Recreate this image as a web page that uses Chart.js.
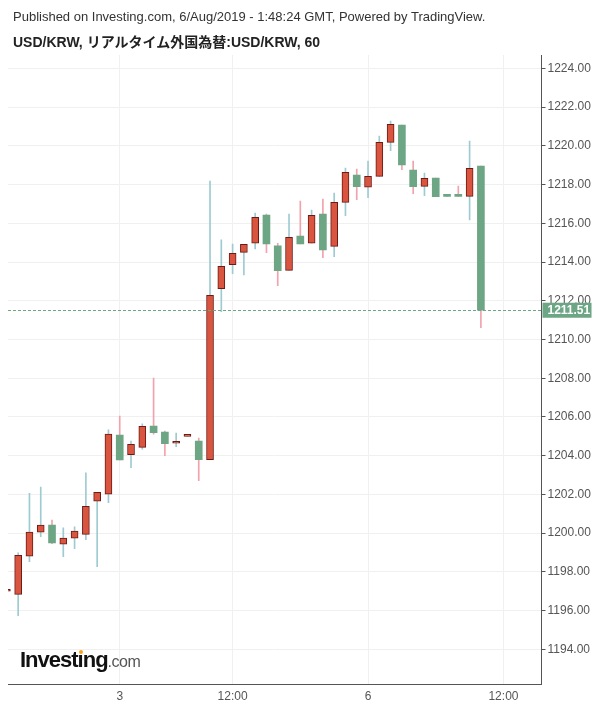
<!DOCTYPE html>
<html>
<head>
<meta charset="utf-8">
<script src="https://cdn.jsdelivr.net/npm/chart.js@4.4.0/dist/chart.umd.min.js"></script>
<style>
  body { margin: 0; background: #fff; font-family: "Liberation Sans", Arial, sans-serif; }
  #wrap { position: relative; width: 600px; height: 708px; }
  #wrap canvas { position: absolute; left: 0; top: 0; }
  .hdr { position: absolute; left: 13px; white-space: nowrap; z-index: 2; }
  #pub { top: 9px; font-size: 13px; color: #333; }
  #ttl { top: 31px; font-size: 14px; font-weight: bold; color: #222; font-family: "Liberation Sans", "Noto Sans CJK JP", sans-serif; }
  #logo { position: absolute; left: 20px; top: 647px; z-index: 2; white-space: nowrap; }
  #logo .big { font-size: 22px; font-weight: bold; color: #111; letter-spacing: -1px; }
  #logo .com { font-size: 16px; color: #555; letter-spacing: -0.5px; }
  .idot { position: relative; }
  .idot::after { content: ""; position: absolute; left: 1px; top: 3px; width: 4px; height: 4px; background: #f7a21b; border-radius: 50%; }
</style>
</head>
<body>
<div id="wrap">
  <div class="hdr" id="pub">Published on Investing.com, 6/Aug/2019 - 1:48:24 GMT, Powered by TradingView.</div>
  <div class="hdr" id="ttl">USD/KRW, リアルタイム外国為替:USD/KRW, 60</div>
  <div id="logo"><span class="big">Invest<span class="idot">ı</span>ng</span><span class="com">.com</span></div>
  <canvas id="chart" width="600" height="708"></canvas>
</div>
<script>
// hourly candles, index 0 is the bar cut off at the left edge
const opens = [1197.00, 1196.84, 1198.81, 1200.05, 1200.42, 1199.43, 1199.74, 1199.94, 1201.65, 1202.01,
  1205.07, 1204.05, 1204.43, 1205.53, 1205.22, 1204.64, 1205.00, 1204.76, 1203.79, 1212.62,
  1213.86, 1214.50, 1214.97, 1216.43, 1214.83, 1213.57, 1215.34, 1214.97, 1216.48, 1214.81,
  1217.08, 1218.49, 1217.86, 1218.42, 1220.18, 1221.07, 1218.75, 1217.91, 1218.34, 1217.40,
  1217.40, 1217.39, 1218.96];
const highs = [1197.00, 1198.98, 1202.06, 1202.38, 1200.68, 1200.27, 1200.32, 1203.11, 1202.11, 1205.33,
  1206.05, 1204.76, 1205.64, 1208.01, 1205.27, 1205.17, 1205.00, 1204.91, 1218.18, 1215.14,
  1214.93, 1214.91, 1216.53, 1216.48, 1214.97, 1216.48, 1217.15, 1216.68, 1217.25, 1217.56,
  1218.85, 1218.80, 1219.21, 1220.50, 1221.28, 1221.07, 1219.21, 1218.59, 1218.34, 1217.40,
  1217.92, 1220.25, 1218.96];
const lows = [1197.00, 1195.74, 1198.53, 1199.82, 1199.45, 1198.79, 1199.20, 1199.66, 1198.27, 1201.57,
  1203.78, 1203.38, 1204.33, 1205.11, 1204.00, 1204.46, 1205.00, 1202.71, 1203.79, 1211.43,
  1213.40, 1213.33, 1214.67, 1214.48, 1212.78, 1213.57, 1214.94, 1214.97, 1214.22, 1214.27,
  1216.39, 1217.22, 1217.32, 1218.42, 1219.75, 1218.77, 1217.53, 1217.42, 1217.37, 1217.39,
  1217.39, 1216.18, 1210.61];
const closes = [1197.00, 1198.86, 1200.05, 1200.41, 1199.49, 1199.74, 1200.10, 1201.39, 1202.11, 1205.12,
  1203.78, 1204.59, 1205.52, 1205.19, 1204.62, 1204.64, 1205.00, 1203.79, 1212.28, 1213.78,
  1214.45, 1214.91, 1216.31, 1214.94, 1213.55, 1215.28, 1214.94, 1216.41, 1214.63, 1217.08,
  1218.63, 1217.89, 1218.42, 1220.18, 1221.11, 1219.02, 1217.89, 1218.32, 1217.37, 1217.39,
  1217.39, 1218.84, 1211.51];

const xTickPos = [10, 20, 32, 44];
const xTickLabels = ["3", "12:00", "6", "12:00"];
const yTicks = [1194, 1196, 1198, 1200, 1202, 1204, 1206, 1208, 1210, 1212, 1214, 1216, 1218, 1220, 1222, 1224];

const upFill = "#d9553f", upBorder = "#6b1a14", upWick = "#9ecbd1";
const downFill = "#6ca684", downWick = "#f2a2ad";

const isUp = closes.map((c, i) => c >= opens[i]);
const lastPrice = closes[closes.length - 1];

const bodies = opens.map((o, i) => ({ x: i, y: [o, closes[i]] }));
const wicks = lows.map((l, i) => ({ x: i, y: [l, highs[i]] }));

const lastPricePlugin = {
  id: "lastPrice",
  afterDatasetsDraw(chart) {
    const { ctx, chartArea, scales } = chart;
    const y = Math.round(scales.y.getPixelForValue(lastPrice)) + 0.5;
    ctx.save();
    ctx.strokeStyle = downFill;
    ctx.lineWidth = 1;
    ctx.setLineDash([3, 2]);
    ctx.beginPath();
    ctx.moveTo(chartArea.left, y);
    ctx.lineTo(chartArea.right, y);
    ctx.stroke();
    ctx.restore();
  },
  afterDraw(chart) {
    const { ctx, chartArea, scales } = chart;
    const y = scales.y.getPixelForValue(lastPrice);
    ctx.save();
    ctx.fillStyle = downFill;
    ctx.fillRect(chartArea.right + 1, y - 7.5, 49, 15);
    ctx.fillStyle = "#fff";
    ctx.font = "bold 12px 'Liberation Sans', Arial, sans-serif";
    ctx.textBaseline = "middle";
    ctx.fillText(lastPrice.toFixed(2), chartArea.right + 6, y + 0.5);
    ctx.restore();
  }
};

new Chart(document.getElementById("chart").getContext("2d"), {
  type: "bar",
  data: {
    datasets: [
      {
        label: "body",
        data: bodies,
        order: 0,
        grouped: false,
        barThickness: 7,
        minBarLength: 2,
        backgroundColor: isUp.map(u => u ? upFill : downFill),
        borderColor: isUp.map(u => u ? upBorder : downFill),
        borderWidth: isUp.map(u => u ? 1 : 0),
        borderSkipped: false
      },
      {
        label: "wick",
        data: wicks,
        order: 1,
        grouped: false,
        barThickness: 1,
        backgroundColor: isUp.map(u => u ? upWick : downWick),
        borderWidth: 0
      }
    ]
  },
  options: {
    responsive: false,
    animation: false,
    layout: { padding: { left: 8, top: 55, right: 0, bottom: 0 } },
    plugins: { legend: { display: false }, tooltip: { enabled: false } },
    scales: {
      x: {
        type: "linear",
        min: 0.1,
        max: 47.37,
        offset: false,
        afterBuildTicks: s => { s.ticks = xTickPos.map(v => ({ value: v })); },
        afterFit: s => { s.height = 24; },
        grid: { color: "#f0f0f0", drawTicks: false, offset: false },
        border: { color: "#555", width: 1 },
        ticks: {
          color: "#555",
          font: { family: "'Liberation Sans', Arial, sans-serif", size: 12 },
          padding: 5,
          maxRotation: 0,
          autoSkip: false,
          callback: v => xTickLabels[xTickPos.indexOf(v)]
        }
      },
      y: {
        position: "right",
        min: 1192.21,
        max: 1224.69,
        afterBuildTicks: s => { s.ticks = yTicks.map(v => ({ value: v })); },
        afterFit: s => { s.width = 58.5; },
        grid: { color: "#f0f0f0", tickColor: "#555", tickLength: 4 },
        border: { color: "#555", width: 1 },
        ticks: {
          color: "#555",
          font: { family: "'Liberation Sans', Arial, sans-serif", size: 12 },
          padding: 2,
          callback: v => v.toFixed(2)
        }
      }
    }
  },
  plugins: [lastPricePlugin]
});
</script>
</body>
</html>
